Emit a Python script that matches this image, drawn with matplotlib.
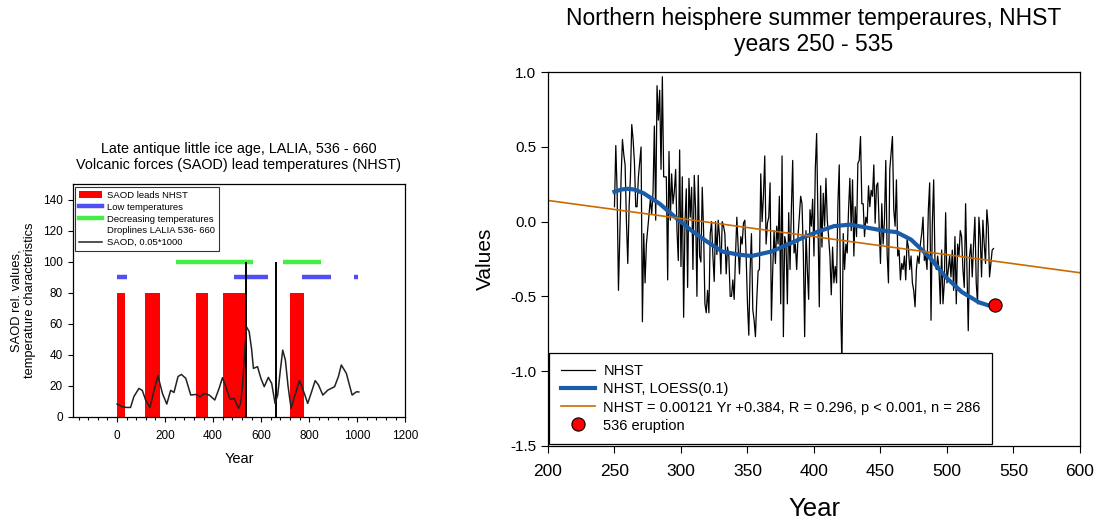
import numpy as np
import matplotlib
matplotlib.use("Agg")
import matplotlib.pyplot as plt
from matplotlib.patches import Patch
from matplotlib.lines import Line2D

plt.rcParams['font.family'] = ['Liberation Sans', 'DejaVu Sans']

# ---------------- left panel data ----------------
saod_lead_start = [0, 118, 327, 440, 719]
saod_lead_end = [32, 178, 380, 531, 778]
saod_lead_height = 80

low_start = [0, 488, 770, 985]
low_end = [40, 630, 890, 1005]
low_level = 90

decr_start = [247, 690]
decr_end = [566, 850]
decr_level = 100

droplines = [536, 660]
dropline_top = 100

saod_year = [0, 21, 40, 56, 70, 91, 105, 119, 137, 154, 170, 189, 207, 223, 237,
             254, 268, 286, 307, 328, 346, 363, 384, 407, 425, 439, 453, 471, 488,
             506, 515, 522, 531, 539, 550, 560, 568, 585, 599, 613, 630, 644, 658,
             669, 680, 690, 701, 712, 718, 725, 739, 760, 780, 794, 810, 825, 839,
             857, 878, 906, 922, 934, 955, 979, 997, 1007]
saod_val = [8.2, 6.5, 6, 6, 13, 18.3, 17, 10.8, 6, 17, 26.5, 15, 8.2, 17, 15.7,
            26, 27.3, 24.8, 14, 14.4, 13, 15, 14, 10.8, 18.3, 25.2, 19.4, 11.2, 11.8,
            5.4, 9, 19.4, 40, 58, 55, 44, 31.2, 32.3, 24.8, 19.4, 25.4, 21.5, 8.6,
            14, 30, 43, 36.6, 20, 13, 5.4, 13, 23.3, 15, 8.6, 16, 23.3, 20.5,
            14, 17.2, 19.4, 26, 33.4, 28, 14, 16.1, 16]

# ---------------- right panel data ----------------
nhst_year = np.arange(250, 536)
nhst_val = [
    # 250-259
    0.10, 0.51, 0.20, -0.46, -0.10, 0.30, 0.55, 0.45, 0.38, 0.00,
    # 260-269
    -0.28, 0.10, 0.30, 0.65, 0.55, 0.40, 0.10, 0.10, 0.30, 0.40,
    # 270-279
    0.50, -0.67, -0.08, -0.41, -0.15, -0.05, 0.05, 0.15, 0.05, 0.20,
    # 280-289
    0.64, 0.01, 0.91, 0.68, 0.88, 0.35, 0.97, 0.30, 0.30, 0.30,
    # 290-299
    -0.39, 0.47, 0.01, 0.32, 0.12, 0.20, 0.35, -0.06, -0.26, 0.48,
    # 300-309
    -0.30, 0.30, -0.64, -0.01, 0.22, -0.44, 0.29, 0.03, 0.23, -0.32,
    # 310-319
    0.31, 0.08, -0.50, 0.31, -0.23, -0.27, 0.23, -0.06, -0.55, -0.61,
    # 320-329
    -0.46, -0.61, -0.08, 0.00, -0.23, -0.40, 0.00, -0.22, 0.01, -0.10,
    # 330-339
    -0.35, 0.00, -0.03, -0.08, -0.35, -0.17, -0.23, -0.50, -0.50, -0.39,
    # 340-349
    -0.52, -0.23, 0.03, -0.17, -0.35, -0.10, -0.15, -0.01, 0.01, -0.23,
    # 350-359
    -0.55, -0.76, -0.32, -0.08, -0.59, -0.66, -0.77, -0.52, -0.33, -0.32,
    # 360-369
    0.32, 0.00, 0.17, 0.44, -0.15, -0.01, 0.03, 0.26, -0.66, -0.32,
    # 370-379
    -0.06, -0.28, -0.03, -0.15, 0.17, -0.55, 0.44, -0.77, -0.10, -0.15,
    # 380-389
    -0.55, 0.06, -0.32, 0.08, 0.41, -0.21, -0.15, -0.32, -0.10, 0.03,
    # 390-399
    0.17, 0.12, -0.21, -0.77, -0.06, -0.32, -0.52, 0.08, -0.03, 0.15,
    # 400-409
    -0.23, 0.35, 0.59, 0.00, -0.57, 0.24, -0.17, 0.19, -0.03, 0.29,
    # 410-419
    0.01, -0.10, -0.23, -0.49, -0.17, -0.41, -0.30, -0.41, 0.12, 0.38,
    # 420-429
    -0.55, -0.95, -0.08, -0.32, -0.15, -0.21, 0.08, 0.29, -0.06, 0.28,
    # 430-439
    -0.23, 0.10, -0.10, 0.39, 0.41, 0.57, 0.12, 0.12, -0.10, 0.03,
    # 440-449
    -0.01, 0.24, 0.10, 0.21, 0.17, 0.38, -0.01, 0.24, 0.26, -0.03,
    # 450-459
    -0.28, 0.12, -0.15, 0.01, 0.41, -0.21, -0.41, 0.35, 0.46, 0.57,
    # 460-469
    0.08, -0.03, 0.28, -0.23, -0.19, -0.39, -0.28, -0.32, -0.23, -0.39,
    # 470-479
    -0.12, -0.17, -0.32, -0.23, -0.41, -0.46, -0.57, -0.32, -0.23, -0.28,
    # 480-489
    -0.15, -0.08, 0.03, -0.26, -0.23, -0.32, 0.08, 0.26, -0.66, -0.01,
    # 490-499
    0.28, -0.28, -0.32, -0.23, -0.32, -0.55, -0.19, -0.55, -0.41, 0.06,
    # 500-509
    -0.41, -0.32, -0.23, -0.37, -0.19, -0.46, -0.10, -0.55, -0.15, -0.23,
    # 510-519
    -0.06, -0.10, -0.32, -0.44, 0.12, -0.32, -0.73, -0.23, -0.15, -0.37,
    # 520-529
    -0.15, 0.03, -0.41, -0.55, 0.03, -0.10, -0.37, 0.01, -0.15, -0.28,
    # 530-535
    0.08, -0.03, -0.37, -0.28, -0.19, -0.18,
]

loess_year = [250, 255, 260, 265, 272, 284, 297, 308, 319, 331, 343, 353, 368,
              381, 391, 402, 415, 427, 440, 452, 462, 473, 486, 499, 511, 524, 531, 535]
loess_val = [0.20, 0.215, 0.22, 0.215, 0.19, 0.12, 0.02, -0.06, -0.13, -0.20, -0.22,
             -0.23, -0.20, -0.15, -0.11, -0.07, -0.03, -0.02, -0.04, -0.06, -0.07,
             -0.12, -0.23, -0.37, -0.47, -0.54, -0.56, -0.565]

reg_slope = -0.00121
reg_intercept = 0.384
reg_x = [200, 600]

eruption_year = [536]
eruption_val = [-0.56]

fig = plt.figure(figsize=(11.01, 5.19), dpi=100)

# ---------------- left panel ----------------
axl = fig.add_axes([0.066, 0.197, 0.302, 0.448])
widths = [e - s for s, e in zip(saod_lead_start, saod_lead_end)]
axl.bar(saod_lead_start, [saod_lead_height] * len(widths), width=widths,
        align='edge', color='#ff0000', linewidth=0)
axl.hlines([low_level] * len(low_start), low_start, low_end, color='#4f4ff5', lw=3.2)
axl.hlines([decr_level] * len(decr_start), decr_start, decr_end, color='#44ee44', lw=3.2)
axl.vlines(droplines, 0, dropline_top, color='black', lw=1.4)
axl.plot(saod_year, saod_val, color='#222222', lw=1.1)

axl.set_xlim(-185, 1200)
axl.set_ylim(0, 150)
axl.set_xticks(range(0, 1201, 200))
axl.set_xticks(range(-160, 1201, 40), minor=True)
axl.set_yticks(range(0, 141, 20))
axl.tick_params(direction='out', labelsize=8.5, length=3.5, width=0.8)
axl.tick_params(which='minor', direction='out', length=2.5, width=0.8)
axl.tick_params(axis='x', pad=6)
axl.set_xlabel("Year", fontsize=10.5, labelpad=7)
axl.set_ylabel("SAOD rel. values,\ntemperature characteristics", fontsize=9.3, labelpad=5)
axl.set_title("Late antique little ice age, LALIA, 536 - 660\n"
              "Volcanic forces (SAOD) lead temperatures (NHST)", fontsize=10.4, pad=11)

handles_l = [
    Patch(facecolor='#ff0000', edgecolor='none'),
    Line2D([], [], color='#4f4ff5', lw=3.2),
    Line2D([], [], color='#44ee44', lw=3.2),
    Line2D([], [], color='white', lw=0),
    Line2D([], [], color='#222222', lw=1.1),
]
labels_l = ["SAOD leads NHST", "Low temperatures", "Decreasing temperatures",
            "Droplines LALIA 536- 660", "SAOD, 0.05*1000"]
leg = axl.legend(handles_l, labels_l, loc='upper left', fontsize=6.8,
                 frameon=True, fancybox=False, edgecolor='black',
                 borderaxespad=0.25, handlelength=2.4, labelspacing=0.3,
                 handletextpad=0.5, borderpad=0.45)
leg.get_frame().set_linewidth(0.8)

# ---------------- right panel ----------------
axr = fig.add_axes([0.4977, 0.1412, 0.4832, 0.7195])
axr.plot(nhst_year, nhst_val, color='black', lw=0.9, label="NHST")
axr.plot(loess_year, loess_val, color='#1a5ca8', lw=3.0, label="NHST, LOESS(0.1)")
reg_y = [reg_intercept + reg_slope * x for x in reg_x]
axr.plot(reg_x, reg_y, color='#cc6a00', lw=1.2,
         label="NHST = 0.00121 Yr +0.384, R = 0.296, p < 0.001, n = 286")
axr.plot(eruption_year, eruption_val, 'o', color='#ff0000', mec='black', mew=0.8,
         ms=9.5, ls='none', label="536 eruption")

axr.set_xlim(200, 600)
axr.set_ylim(-1.5, 1.0)
axr.set_xticks(range(200, 601, 50))
axr.set_yticks([-1.5, -1.0, -0.5, 0.0, 0.5, 1.0])
axr.set_yticklabels(["-1.5", "-1.0", "-0.5", "0.0", "0.5", "1.0"])
axr.tick_params(direction='out', length=5, width=0.8)
axr.tick_params(axis='x', labelsize=12.5, pad=8)
axr.tick_params(axis='y', labelsize=11)
axr.set_xlabel("Year", fontsize=18.5, labelpad=13)
axr.set_ylabel("Values", fontsize=15, labelpad=11)
axr.set_title("Northern heisphere summer temperaures, NHST\nyears 250 - 535",
              fontsize=16.5, pad=15)

legr = axr.legend(loc='lower left', fontsize=10.5, frameon=True, fancybox=False,
                  edgecolor='black', framealpha=1, borderaxespad=0.1,
                  handlelength=2.3, labelspacing=0.28, handletextpad=0.6,
                  borderpad=0.8)
legr.get_frame().set_linewidth(0.9)

for ax in (axl, axr):
    for s in ax.spines.values():
        s.set_linewidth(0.9)

fig.savefig("out.png", dpi=100)
